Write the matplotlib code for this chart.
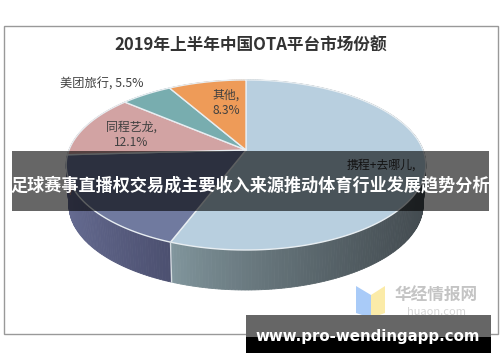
import numpy as np
import matplotlib
matplotlib.use('Agg')
import matplotlib.pyplot as plt
from matplotlib.patches import Polygon, Rectangle

plt.rcParams['font.family'] = ['Noto Sans CJK SC', 'DejaVu Sans']

# shares, clockwise from twelve o'clock (the two hidden ones are estimated from the angles)
names = ['携程+去哪儿', '飞猪', '同程艺龙', '美团旅行', '其他']
shares = [55.8, 18.3, 12.1, 5.5, 8.3]
top_colors = ['#B8CFDF', '#707A9F', '#D2A3A3', '#78ADAF', '#EE9B58']
wall_left = ['#83989F', '#666C92', '#A88080', '#5F8A8C', '#BC7A46']
wall_right = ['#434B50', '#4C5070', '#A88080', '#5F8A8C', '#BC7A46']

title = '2019年上半年中国OTA平台市场份额'
banner = '足球赛事直播权交易成主要收入来源推动体育行业发展趋势分析'
site = 'www.pro-wendingapp.com'

cx, cy = 246, 150
A, C, P = 177, 82.4, 0.176
depth = 40


def project(theta, drop=0):
    # tilted circle with some perspective, theta clockwise from the top
    u, v = np.sin(theta), np.cos(theta)
    d = 1 + P*v
    scale = 0.985 if drop else 1
    return cx + scale*A*u/d, cy - C*v/d + drop


def mix(c1, c2, t):
    a = np.array(matplotlib.colors.to_rgb(c1))
    b = np.array(matplotlib.colors.to_rgb(c2))
    return a + (b - a)*t


fig = plt.figure(figsize=(5, 3.62), dpi=100)
ax = fig.add_axes([0, 0, 1, 1])
ax.set_xlim(0, 500)
ax.set_ylim(362, 0)
ax.axis('off')

ax.add_patch(Rectangle((3.5, 25.5), 494, 308, fc='white', ec='#999999', lw=1, zorder=0))

edges = np.radians(np.cumsum([0] + shares)*3.6)

# side wall first, split in strips for the gradient
for i in range(len(shares)):
    t = np.linspace(edges[i], edges[i+1], int(shares[i]*4) + 2)
    xs, ys = project(t)
    xb, yb = project(t, depth)
    x0, x1 = min(xs), max(xs)
    for k in range(len(t) - 1):
        f = (xs[k] - x0)/(x1 - x0 + 1e-6)
        # navy and big slice both read left to right in the picture
        col = mix(wall_left[i], wall_right[i], f**0.8)
        pts = [(xs[k], ys[k]), (xs[k+1], ys[k+1]), (xb[k+1], yb[k+1]), (xb[k], yb[k])]
        ax.add_patch(Polygon(pts, fc=col, ec=col, lw=0.6, zorder=1))

# top face
for i in range(len(shares)):
    t = np.linspace(edges[i], edges[i+1], 120)
    xs, ys = project(t)
    pts = [(cx, cy)] + list(zip(xs, ys))
    ax.add_patch(Polygon(pts, fc=top_colors[i], ec='#E8EEF2', lw=1, joinstyle='round', zorder=2))

# seam on the wall between the two front slices
sx, sy = project(edges[1])
bx, by = project(edges[1], depth)
ax.plot([sx, bx], [sy, by], color='#D5DCE0', lw=1, zorder=3)

ax.text(251, 46, title, ha='center', va='center', fontsize=12, fontweight='bold', color='#333333', zorder=4)
ax.text(102, 84, names[3] + ', ' + str(shares[3]) + '%', ha='center', va='center', fontsize=8.8, color='#404040', zorder=4)
ax.text(226, 103, names[4] + ',\n' + str(shares[4]) + '%', ha='center', va='center', fontsize=8.6, color='#404040', linespacing=1.2, zorder=4)
ax.text(131, 135, names[2] + ',\n' + str(shares[2]) + '%', ha='center', va='center', fontsize=8.6, color='#404040', linespacing=1.2, zorder=4)
# second line of this label sits behind the banner in the picture, so only the name is shown
ax.text(381, 165, names[0] + ',', ha='center', va='center', fontsize=8.6, color='#303030', zorder=4)

# watermark
ax.add_patch(Polygon([(356, 286), (371, 295), (371, 318), (356, 313)], fc='#A9CBF8', ec='none', zorder=4))
ax.add_patch(Polygon([(371, 295), (385, 286), (385, 313), (371, 318)], fc='#FBEBA8', ec='none', zorder=4))
ax.text(436, 296, '华经情报网', ha='center', va='center', fontsize=12, fontweight='bold', color='#C4C4C4', zorder=4)
ax.text(436, 312, 'huaon.com', ha='center', va='center', fontsize=8, color='#D5D5D5', zorder=4)

# overlay banners
ax.add_patch(Rectangle((12, 151), 477, 60, fc='black', alpha=0.6, ec='none', zorder=5))
ax.text(250.5, 185, banner, ha='center', va='center', fontsize=12.3, fontweight='bold', color='white', zorder=6)
ax.add_patch(Rectangle((246, 315), 245, 22, fc='#666666', ec='none', zorder=5))
ax.add_patch(Rectangle((246, 337), 245, 16, fc='black', ec='none', zorder=5))
ax.text(368, 336.5, site, ha='center', va='center', fontsize=10.8, fontweight='bold', color='white',
        family='DejaVu Sans', zorder=6)

fig.savefig('out.png', dpi=100)
